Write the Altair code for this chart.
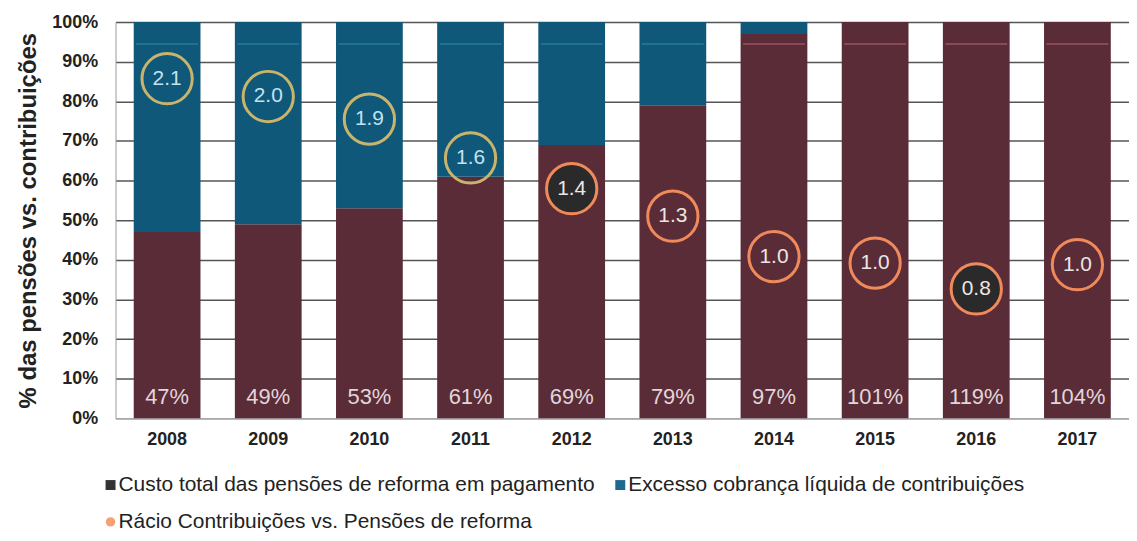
import altair as alt
import pandas as pd

# ---------------- data ----------------
years = ["2008", "2009", "2010", "2011", "2012", "2013", "2014", "2015", "2016", "2017"]
pension_cost_pct = [47, 49, 53, 61, 69, 79, 97, 101, 119, 104]
ratio_labels = ["2.1", "2.0", "1.9", "1.6", "1.4", "1.3", "1.0", "1.0", "0.8", "1.0"]
ratio_values = [2.10, 1.99, 1.85, 1.61, 1.42, 1.25, 1.00, 0.96, 0.80, 0.95]
highlight_years = ["2012", "2016"]
y_ticks = [0, 10, 20, 30, 40, 50, 60, 70, 80, 90, 100]

series_cost = "Custo total das pensões de reforma em pagamento"
series_excess = "Excesso cobrança líquida de contribuições"
series_ratio = "Rácio Contribuições vs. Pensões de reforma"

# ---------------- styles ----------------
MAROON = "#5a2c37"
BLUE = "#0f5879"
GOLD = "#c8b46c"
ORANGE = "#f08a5b"
DARK = "#2a2a2a"
FONT = "Liberation Sans, Arial, sans-serif"

rows = []
for y, p in zip(years, pension_cost_pct):
    red = min(p, 100)
    rows.append({"year": y, "series": series_cost, "value": red, "order": 0})
    rows.append({"year": y, "series": series_excess, "value": 100 - red, "order": 1})
bars_df = pd.DataFrame(rows)

label_df = pd.DataFrame({
    "year": years,
    "pct": pension_cost_pct,
    "pct_label": [f"{v}%" for v in pension_cost_pct],
})

ratio_df = pd.DataFrame({"year": years, "ratio": ratio_values, "label": ratio_labels})

x_enc = alt.X(
    "year:N",
    sort=years,
    scale=alt.Scale(paddingInner=0.34, paddingOuter=0.18),
    axis=alt.Axis(
        title=None, labelAngle=0, ticks=False, labelPadding=12,
        labelFontSize=18, labelFontWeight="bold", labelColor="#222222",
        domainColor="#d5d5d5", grid=False,
    ),
)

y_scale = alt.Scale(domain=[0, 100], nice=False)
y_axis = alt.Axis(
    values=y_ticks, labelExpr="datum.value + '%'", labelOverlap=False,
    ticks=False, labelPadding=18, labelFontSize=18, labelFontWeight="bold",
    labelColor="#222222", domainColor="#9a9a9a", gridColor="#555555",
    gridWidth=1.5, title="% das pensões vs. contribuições",
    titleFontSize=24, titleFontWeight="bold", titleColor="#222222",
    titlePadding=11,
)

bars = alt.Chart(bars_df).mark_bar().encode(
    x=x_enc,
    y=alt.Y("value:Q", stack="zero", scale=y_scale, axis=y_axis),
    color=alt.Color(
        "series:N",
        scale=alt.Scale(domain=[series_cost, series_excess], range=[MAROON, BLUE]),
        legend=None,
    ),
    order=alt.Order("order:Q"),
)

faint_line = alt.Chart(label_df).mark_tick(thickness=1.5, size=62, opacity=0.75).encode(
    x=alt.X("year:N", sort=years),
    y=alt.Y(datum=94.5, scale=y_scale, axis=y_axis),
    color=alt.condition("datum.pct >= 96", alt.value("#b0606c"), alt.value("#2f87ab")),
)

pct_text = alt.Chart(label_df).mark_text(
    fontSize=22, font=FONT, color="#e2d6da", baseline="middle"
).encode(
    x=alt.X("year:N", sort=years),
    y=alt.value(377),
    text="pct_label:N",
)

base_layer = alt.layer(bars, faint_line, pct_text)

ratio_y = alt.Y("ratio:Q", scale=alt.Scale(domain=[0, 2.45], nice=False), axis=None)

circles = alt.Chart(ratio_df).mark_point(
    shape="circle", size=2550, strokeWidth=3, opacity=1
).encode(
    x=alt.X("year:N", sort=years),
    y=ratio_y,
    stroke=alt.condition("datum.ratio >= 1.5", alt.value(GOLD), alt.value(ORANGE)),
    fill=alt.condition(
        alt.FieldOneOfPredicate(field="year", oneOf=highlight_years),
        alt.value(DARK), alt.value("transparent"),
    ),
)

circle_text = alt.Chart(ratio_df).mark_text(
    fontSize=21, font=FONT, baseline="middle"
).encode(
    x=alt.X("year:N", sort=years),
    y=ratio_y,
    text="label:N",
    color=alt.condition("datum.ratio >= 1.5", alt.value("#c4e2ef"), alt.value("#ece6e6")),
)

ratio_layer = alt.layer(circles, circle_text)

# ---------------- manual legend ----------------
def legend_item(name, color, shape, x_sym, x_txt, y):
    df = pd.DataFrame({"label": [name]})
    sym = alt.Chart(df).mark_point(
        shape=shape, filled=True, size=100 if shape == "square" else 90, opacity=1,
        color=color,
    ).encode(x=alt.value(x_sym), y=alt.value(y))
    txt = alt.Chart(df).mark_text(
        align="left", baseline="middle", fontSize=21, font=FONT, color="#222222"
    ).encode(x=alt.value(x_txt), y=alt.value(y), text="label:N")
    return sym + txt

leg1 = legend_item(series_cost, "#333333", "square", -5, 3, 465)
leg2 = legend_item(series_excess, "#1e6a8e", "square", 507, 515, 465)
leg3 = legend_item(series_ratio, "#f3a273", "circle", -5, 3, 502)

chart = alt.layer(base_layer, ratio_layer, leg1, leg2, leg3).resolve_scale(
    y="independent"
).properties(
    width=1018, height=398,
    padding={"left": 8, "top": 4, "right": 0, "bottom": 2},
).configure_view(stroke=None).configure_axis(
    labelFont=FONT, titleFont=FONT
).configure_text(font=FONT)

chart.save("out.html", embed_options={"renderer": "svg", "actions": False})
